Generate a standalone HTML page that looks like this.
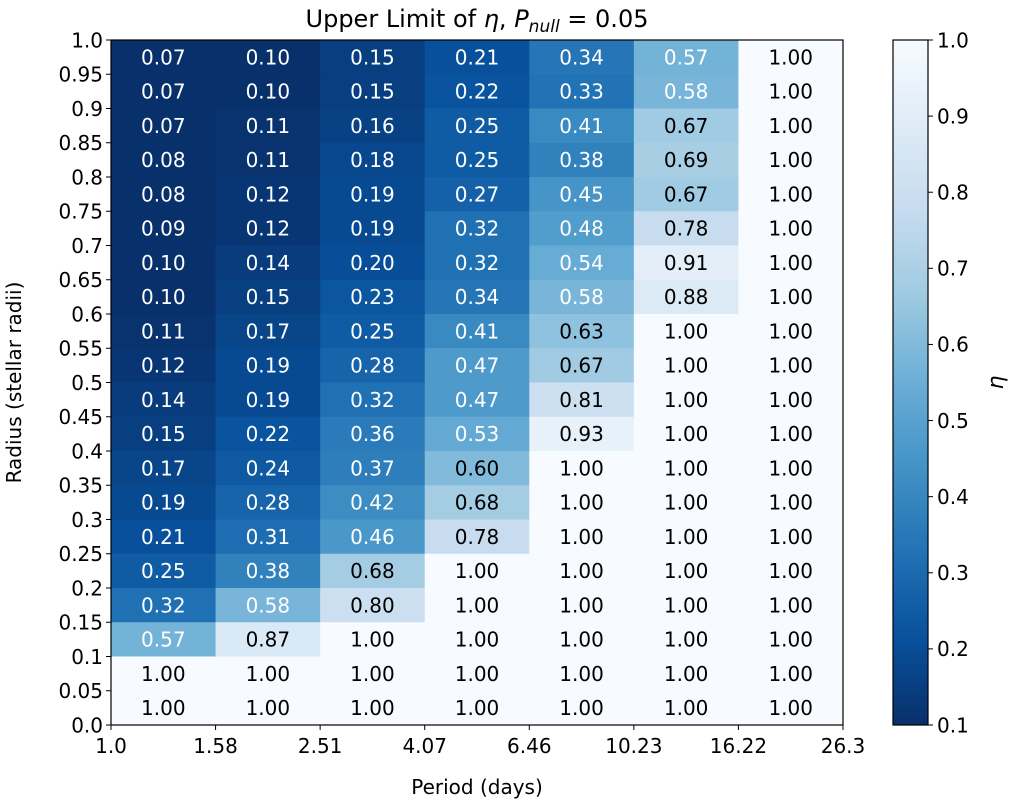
<!DOCTYPE html>
<html><head><meta charset="utf-8">
<style>
body{margin:0;background:#fff;width:1020px;height:807px;overflow:hidden}
svg{font-family:"DejaVu Sans","Liberation Sans",sans-serif}
</style></head>
<body>
<svg id="chart" width="1020" height="807"></svg>
<script>
const periodTicks=["1.0","1.58","2.51","4.07","6.46","10.23","16.22","26.3"];
const radiusTicks=["0.0","0.05","0.1","0.15","0.2","0.25","0.3","0.35","0.4","0.45","0.5","0.55","0.6","0.65","0.7","0.75","0.8","0.85","0.9","0.95","1.0"];
const cbTicks=[0.1,0.2,0.3,0.4,0.5,0.6,0.7,0.8,0.9,1.0];
// rows from top (radius 0.95-1.0) to bottom (0.0-0.05)
const values=[
[0.07,0.10,0.15,0.21,0.34,0.57,1.00],
[0.07,0.10,0.15,0.22,0.33,0.58,1.00],
[0.07,0.11,0.16,0.25,0.41,0.67,1.00],
[0.08,0.11,0.18,0.25,0.38,0.69,1.00],
[0.08,0.12,0.19,0.27,0.45,0.67,1.00],
[0.09,0.12,0.19,0.32,0.48,0.78,1.00],
[0.10,0.14,0.20,0.32,0.54,0.91,1.00],
[0.10,0.15,0.23,0.34,0.58,0.88,1.00],
[0.11,0.17,0.25,0.41,0.63,1.00,1.00],
[0.12,0.19,0.28,0.47,0.67,1.00,1.00],
[0.14,0.19,0.32,0.47,0.81,1.00,1.00],
[0.15,0.22,0.36,0.53,0.93,1.00,1.00],
[0.17,0.24,0.37,0.60,1.00,1.00,1.00],
[0.19,0.28,0.42,0.68,1.00,1.00,1.00],
[0.21,0.31,0.46,0.78,1.00,1.00,1.00],
[0.25,0.38,0.68,1.00,1.00,1.00,1.00],
[0.32,0.58,0.80,1.00,1.00,1.00,1.00],
[0.57,0.87,1.00,1.00,1.00,1.00,1.00],
[1.00,1.00,1.00,1.00,1.00,1.00,1.00],
[1.00,1.00,1.00,1.00,1.00,1.00,1.00]];
const NS="http://www.w3.org/2000/svg";
const svg=document.getElementById('chart');
const L=111,R=843,T=40,B=725;
const nC=values[0].length,nR=values.length;
const cw=(R-L)/nC,rh=(B-T)/nR;
const vmin=0.1,vmax=1.0;
const FS=20;
const stops=["#f7fbff","#deebf7","#c6dbef","#9ecae1","#6baed6","#4292c6","#2171b5","#08519c","#08306b"];
function hex(h){return [1,3,5].map(i=>parseInt(h.substr(i,2),16));}
function cmap(v){let t=(v-vmin)/(vmax-vmin);t=Math.max(0,Math.min(1,t));t=1-t;
 const p=t*8,i=Math.min(7,Math.floor(p)),f=p-i;const a=hex(stops[i]),b=hex(stops[i+1]);
 return 'rgb('+a.map((x,k)=>Math.round(x+(b[k]-x)*f)).join(',')+')';}
function el(tag,attrs,txt){const e=document.createElementNS(NS,tag);for(const k in attrs)e.setAttribute(k,attrs[k]);if(txt!==undefined)e.textContent=txt;svg.appendChild(e);return e;}
const xs=i=>L+i*cw, ys=j=>T+j*rh;
values.forEach((row,j)=>row.forEach((v,i)=>{
 const r=el('rect',{x:xs(i),y:ys(j),width:cw+0.5,height:rh+0.5,fill:cmap(v)});
 
 
 const t=el('text',{x:xs(i)+cw/2,y:ys(j)+rh/2+7.3,'text-anchor':'middle','font-size':FS,fill:v<0.6?'#fff':'#000'},v.toFixed(2));
 
 
}));
el('rect',{x:L,y:T,width:R-L,height:B-T,fill:'none',stroke:'#000','stroke-width':1.2});
periodTicks.forEach((s,i)=>{const x=L+i*(R-L)/(periodTicks.length-1);
 el('line',{x1:x,x2:x,y1:B,y2:B+5,stroke:'#000'});
 const t=el('text',{x:x,y:B+28,'text-anchor':'middle','font-size':FS},s);
 
 });
radiusTicks.forEach((s,i)=>{const y=B-i*(B-T)/(radiusTicks.length-1);
 el('line',{x1:L-5,x2:L,y1:y,y2:y,stroke:'#000'});
 const t=el('text',{x:L-8,y:y+7.3,'text-anchor':'end','font-size':FS},s);
 
 });
const xt=el('text',{x:(L+R)/2,y:794,'text-anchor':'middle','font-size':FS},'Period (days)');

const yt=el('text',{x:0,y:0,'text-anchor':'middle','font-size':FS,transform:`translate(21,${(T+B)/2}) rotate(-90)`},'Radius (stellar radii)');

const title=el('text',{x:(L+R)/2,y:27,'text-anchor':'middle','font-size':'24'});

title.innerHTML='Upper Limit of <tspan font-style="italic">η</tspan>, <tspan font-style="italic">P</tspan><tspan font-style="italic" font-size="17" dy="5">null</tspan><tspan dy="-5"> = 0.05</tspan>';
// colorbar
const CX=893,CW=35;
const defs=el('defs',{});const g=document.createElementNS(NS,'linearGradient');
g.setAttribute('id','cbg');g.setAttribute('x1','0');g.setAttribute('y1','1');g.setAttribute('x2','0');g.setAttribute('y2','0');
stops.slice().reverse().forEach((c,k)=>{const s=document.createElementNS(NS,'stop');s.setAttribute('offset',k/8);s.setAttribute('stop-color',c);g.appendChild(s);});
defs.appendChild(g);
const cb=el('rect',{x:CX,y:T,width:CW,height:B-T,fill:'url(#cbg)',stroke:'#000','stroke-width':1.2});

cbTicks.forEach(v=>{const y=B-(v-vmin)/(vmax-vmin)*(B-T);
 el('line',{x1:CX+CW,x2:CX+CW+5,y1:y,y2:y,stroke:'#000'});
 const t=el('text',{x:CX+CW+9,y:y+7.3,'font-size':FS},v.toFixed(1));
 });
const cl=el('text',{x:0,y:0,'text-anchor':'middle','font-size':'22','font-style':'italic',transform:`translate(1003,${(T+B)/2}) rotate(-90)`},'η');

</script>
</body></html>
